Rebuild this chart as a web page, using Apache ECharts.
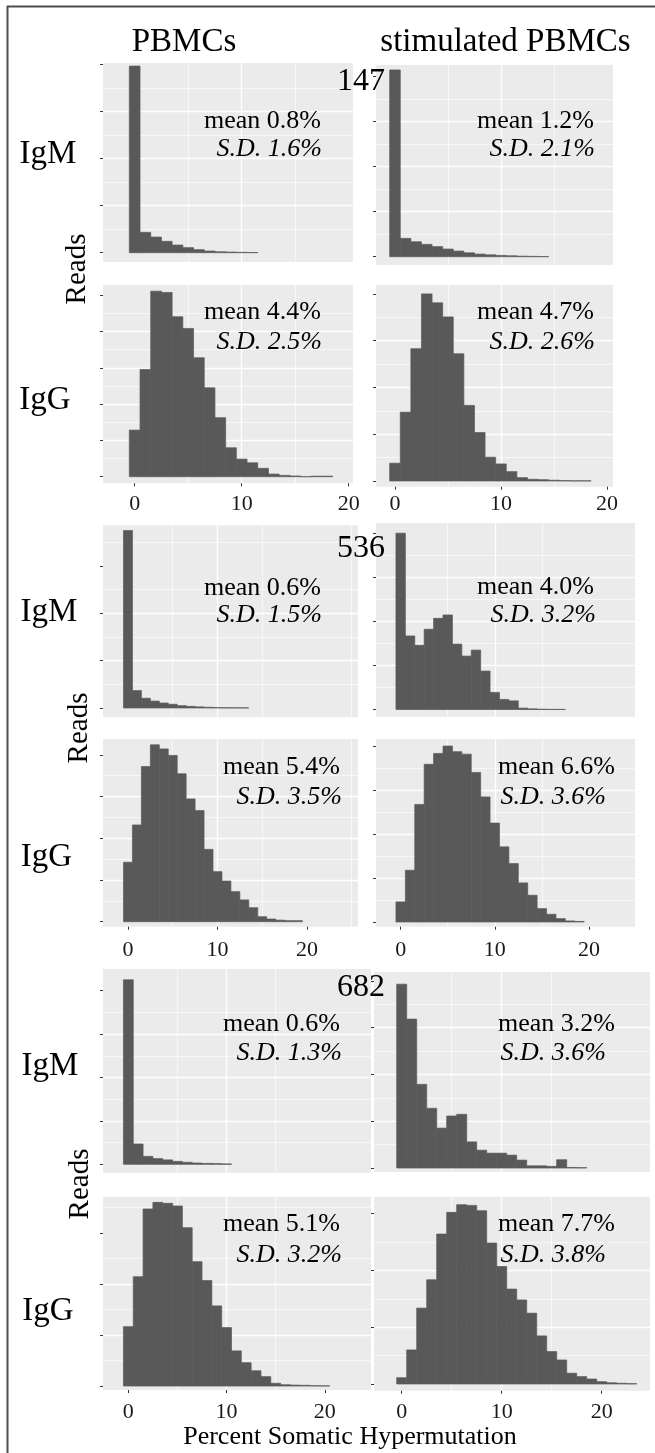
<!DOCTYPE html>
<html>
<head>
<meta charset="utf-8">
<script src="https://cdn.jsdelivr.net/npm/echarts@6/dist/echarts.min.js"></script>
<style>
html,body{margin:0;padding:0;background:#ffffff;}
#chart{width:655px;height:1453px;}
</style>
</head>
<body>
<div id="chart"></div>
<script>
// ---------------- DATA ----------------
const SAMPLE_IDS = ['147', '536', '682'];
const CONDITIONS = ['PBMCs', 'stimulated PBMCs'];
const ISOTYPES = ['IgM', 'IgG'];
const X_TITLE = 'Percent Somatic Hypermutation';
const Y_TITLE = 'Reads';
const X_TICKS = [0, 10, 20];
// histogram bin centres (percent SHM)
const BIN_CENTERS = [0, 1, 2, 3, 4, 5, 6, 7, 8, 9, 10, 11, 12, 13, 14, 15, 16, 17, 18, 19, 20, 21, 22, 23];

// reads per bin (y axis is unlabeled; values in arbitrary read units, 1000 = one y break)
const S147_PBMC_IGM = [3970, 433, 333, 242, 163, 107, 64, 36, 20, 14, 8, 4];
const S147_STIM_IGM = [4150, 407, 332, 274, 224, 170, 125, 87, 58, 42, 29, 21, 12, 8, 4];
const S147_PBMC_IGG = [1283, 2954, 5110, 5074, 4405, 4083, 3276, 2448, 1625, 797, 485, 383, 230, 72, 36, 20, 0, 15, 15];
const S147_STIM_IGG = [380, 1472, 2828, 4000, 3808, 3508, 2720, 1616, 1036, 508, 364, 200, 72, 36, 28, 16, 8, 4, 4];
const S536_PBMC_IGM = [3750, 368, 206, 146, 105, 79, 49, 34, 23, 15, 8, 4, 4, 2];
const S536_STIM_IGM = [4000, 1668, 1456, 1820, 2068, 2144, 1484, 1212, 1348, 872, 388, 228, 196, 32, 16, 8, 4, 4];
const S536_PBMC_IGG = [1425, 2319, 3718, 4240, 4142, 3986, 3545, 2943, 2663, 1734, 1200, 975, 721, 522, 335, 119, 64, 38, 25, 25];
const S536_STIM_IGG = [456, 1176, 2672, 3584, 3832, 4000, 3872, 3816, 3400, 2844, 2248, 1708, 1328, 888, 608, 304, 176, 76, 24, 12];
const S682_PBMC_IGM = [4250, 468, 183, 132, 102, 68, 47, 30, 21, 17, 9];
const S682_STIM_IGM = [3930, 3183, 1788, 1277, 853, 1112, 1148, 558, 381, 318, 318, 275, 169, 47, 47, 35, 177, 12, 8];
const S682_PBMC_IGG = [1163, 2142, 3470, 3600, 3580, 3528, 3103, 2437, 2066, 1570, 1145, 688, 457, 299, 184, 54, 25, 18, 14, 7, 4];
const S682_STIM_IGG = [111, 600, 1337, 1836, 2642, 3024, 3160, 3147, 3053, 2484, 2070, 1672, 1482, 1248, 847, 572, 423, 190, 130, 88, 41, 22, 13, 6];

// mean and S.D. annotations (percent), same panel order as the series
const MEANS = ['0.8', '1.2', '4.4', '4.7', '0.6', '4.0', '5.4', '6.6', '0.6', '3.2', '5.1', '7.7'];
const SDS   = ['1.6', '2.1', '2.5', '2.6', '1.5', '3.2', '3.5', '3.6', '1.3', '3.6', '3.2', '3.8'];

const PANEL_SERIES = [
  S147_PBMC_IGM, S147_STIM_IGM, S147_PBMC_IGG, S147_STIM_IGG,
  S536_PBMC_IGM, S536_STIM_IGM, S536_PBMC_IGG, S536_STIM_IGG,
  S682_PBMC_IGM, S682_STIM_IGM, S682_PBMC_IGG, S682_STIM_IGG
];

// ---------------- LAYOUT (pixels / axis ranges) ----------------
const LAYOUT = [
  {l:103, r:353, t:63,    b:262,    xMin:-2.96, xMax:20.4,  yMin:-198, yMax:4036},
  {l:376, r:613, t:65,    b:265,    xMin:-1.79, xMax:20.57, yMin:-184, yMax:4260},
  {l:103, r:353, t:285,   b:483.3,  xMin:-2.96, xMax:20.4,  yMin:-182, yMax:5280},
  {l:376, r:613, t:285,   b:486.7,  xMin:-1.79, xMax:20.57, yMin:-122, yMax:4190},
  {l:103, r:358, t:525.3, b:717.3,  xMin:-2.79, xMax:25.7,  yMin:-197, yMax:3860},
  {l:376, r:635, t:523,   b:716.7,  xMin:-2.62, xMax:24.9,  yMin:-163, yMax:4230},
  {l:103, r:358, t:739,   b:926.7,  xMin:-2.79, xMax:25.7,  yMin:-120, yMax:4380},
  {l:376, r:635, t:739,   b:926.7,  xMin:-2.62, xMax:24.9,  yMin:-107, yMax:4160},
  {l:103, r:371, t:969,   b:1173,   xMin:-2.58, xMax:24.7,  yMin:-200, yMax:4500},
  {l:374, r:650, t:972,   b:1172,   xMin:-2.77, xMax:24.83, yMin:-85,  yMax:4190},
  {l:103, r:371, t:1196.7,b:1390,   xMin:-2.58, xMax:24.7,  yMin:-78,  yMax:3710},
  {l:374, r:650, t:1196.7,b:1390.7, xMin:-2.77, xMax:24.83, yMin:-118, yMax:3300}
];
const ANNOT_POS = [
  {mx:321, sx:322, my:121,  sy:149},
  {mx:594, sx:595, my:121,  sy:149},
  {mx:321, sx:322, my:312,  sy:342},
  {mx:594, sx:595, my:312,  sy:342},
  {mx:321, sx:322, my:588,  sy:615},
  {mx:594, sx:596, my:587,  sy:615},
  {mx:340, sx:342, my:767,  sy:797},
  {mx:615, sx:606, my:767,  sy:797},
  {mx:340, sx:342, my:1024, sy:1053},
  {mx:615, sx:606, my:1024, sy:1053},
  {mx:340, sx:342, my:1224, sy:1255},
  {mx:615, sx:606, my:1224, sy:1255}
];
const TICK_LABEL_Y = [504.5, 950, 1412];
const SAMPLE_POS = [{x:361, y:82}, {x:361, y:549}, {x:361, y:988}];
const ISO_POS = [
  {x:48, y:154}, {x:45, y:400},
  {x:49, y:612.5}, {x:46.5, y:857},
  {x:50, y:1066}, {x:48, y:1311.5}
];
const READS_POS = [{x:77, y:269}, {x:79, y:728}, {x:80, y:1184}];
const COND_POS = [{x:184, y:42}, {x:505.5, y:42}];

const SERIF = '"Liberation Serif", "Times New Roman", serif';
const BAR_COLOR = '#595959';
const PANEL_BG = '#EBEBEB';
const TICK_FONT = 22;

// ---------------- BUILD ----------------
const grids = [], xAxes = [], yAxes = [], series = [];
PANEL_SERIES.forEach(function (values, i) {
  const L = LAYOUT[i];
  const isIgG = (Math.floor(i / 2) % 2) === 1;
  const row = Math.floor(i / 4);
  grids.push({
    left: L.l, top: L.t, width: L.r - L.l, height: L.b - L.t,
    show: true, backgroundColor: PANEL_BG, borderWidth: 0, containLabel: false
  });
  const yBreaks = [];
  for (let v = 0; v <= L.yMax; v += 1000) yBreaks.push(v);
  xAxes.push({
    type: 'value', gridIndex: i, position: 'bottom', min: L.xMin, max: L.xMax,
    splitNumber: Math.max(1, Math.round((L.xMax - L.xMin) / 10)),
    axisLine: { show: false, onZero: false },
    axisTick: { show: isIgG, length: 3, customValues: X_TICKS, lineStyle: { color: '#333', width: 1 } },
    axisLabel: {
      show: isIgG, customValues: X_TICKS,
      margin: TICK_LABEL_Y[row] - L.b - TICK_FONT / 2,
      fontFamily: SERIF, fontSize: TICK_FONT, color: '#1a1a1a',
      formatter: function (v) { return Math.abs(v / 10 - Math.round(v / 10)) < 1e-6 ? String(Math.round(v)) : ''; }
    },
    splitLine: { show: true, showMinLine: false, showMaxLine: false, lineStyle: { color: '#ffffff', width: 1.3 } },
    minorTick: { show: false, splitNumber: 2 },
    minorSplitLine: { show: true, lineStyle: { color: '#ffffff', width: 0.6 } }
  });
  yAxes.push({
    type: 'value', gridIndex: i, position: 'left', min: L.yMin, max: L.yMax,
    splitNumber: Math.max(1, Math.round((L.yMax - L.yMin) / 1000)),
    axisLine: { show: false, onZero: false },
    axisLabel: { show: false },
    axisTick: { show: true, length: 3, customValues: yBreaks, lineStyle: { color: '#333', width: 1 } },
    splitLine: { show: true, showMinLine: false, showMaxLine: false, lineStyle: { color: '#ffffff', width: 1.3 } },
    minorTick: { show: false, splitNumber: 2 },
    minorSplitLine: { show: true, lineStyle: { color: '#ffffff', width: 0.6 } }
  });
  series.push({
    type: 'custom', coordinateSystem: 'cartesian2d',
    xAxisIndex: i, yAxisIndex: i, silent: true, animation: false, z: 3,
    data: values.map(function (v, k) { return [BIN_CENTERS[k], v]; }),
    renderItem: function (params, api) {
      const x = api.value(0), y = api.value(1);
      const a = api.coord([x - 0.5, y]);
      const b = api.coord([x + 0.5, 0]);
      return {
        type: 'rect',
        shape: { x: a[0], y: a[1], width: b[0] - a[0], height: b[1] - a[1] },
        style: { fill: BAR_COLOR, stroke: BAR_COLOR, lineWidth: 0.7 }
      };
    }
  });
});

function txt(text, x, y, size, opts) {
  opts = opts || {};
  const align = opts.align || 'center';
  return {
    type: 'text', x: x, y: y, z: 100, rotation: opts.rotation || 0,
    style: {
      text: text,
      font: (opts.italic ? 'italic ' : '') + size + 'px ' + SERIF,
      fill: '#000000',
      align: align, textAlign: align,
      verticalAlign: 'middle', textVerticalAlign: 'middle'
    }
  };
}

const graphics = [];
// frame
graphics.push({ type: 'line', z: 100, shape: { x1: 7, y1: 6.5, x2: 655, y2: 6.5 }, style: { stroke: '#4d4d4d', lineWidth: 2 } });
graphics.push({ type: 'line', z: 100, shape: { x1: 7.5, y1: 6, x2: 7.5, y2: 1453 }, style: { stroke: '#4d4d4d', lineWidth: 2 } });
// condition titles
CONDITIONS.forEach(function (c, j) { graphics.push(txt(c, COND_POS[j].x, COND_POS[j].y, 33)); });
// sample ids
SAMPLE_IDS.forEach(function (s, j) { graphics.push(txt(s, SAMPLE_POS[j].x, SAMPLE_POS[j].y, 32)); });
// isotype labels
for (let blk = 0; blk < 3; blk++) {
  ISOTYPES.forEach(function (iso, k) {
    const p = ISO_POS[blk * 2 + k];
    graphics.push(txt(iso, p.x, p.y, 33));
  });
  graphics.push(txt(Y_TITLE, READS_POS[blk].x, READS_POS[blk].y, 29, { rotation: Math.PI / 2 }));
}
// mean / SD annotations
MEANS.forEach(function (m, i) {
  const p = ANNOT_POS[i];
  graphics.push(txt('mean ' + m + '%', p.mx, p.my, 26, { align: 'right' }));
  graphics.push(txt('S.D. ' + SDS[i] + '%', p.sx, p.sy, 26, { align: 'right', italic: true }));
});
// x axis title
graphics.push(txt(X_TITLE, 350, 1437, 26));

const chart = echarts.init(document.getElementById('chart'), null, { renderer: 'canvas', width: 655, height: 1453 });
chart.setOption({
  animation: false,
  backgroundColor: '#ffffff',
  grid: grids,
  xAxis: xAxes,
  yAxis: yAxes,
  series: series,
  graphic: { elements: graphics }
});
</script>
</body>
</html>
